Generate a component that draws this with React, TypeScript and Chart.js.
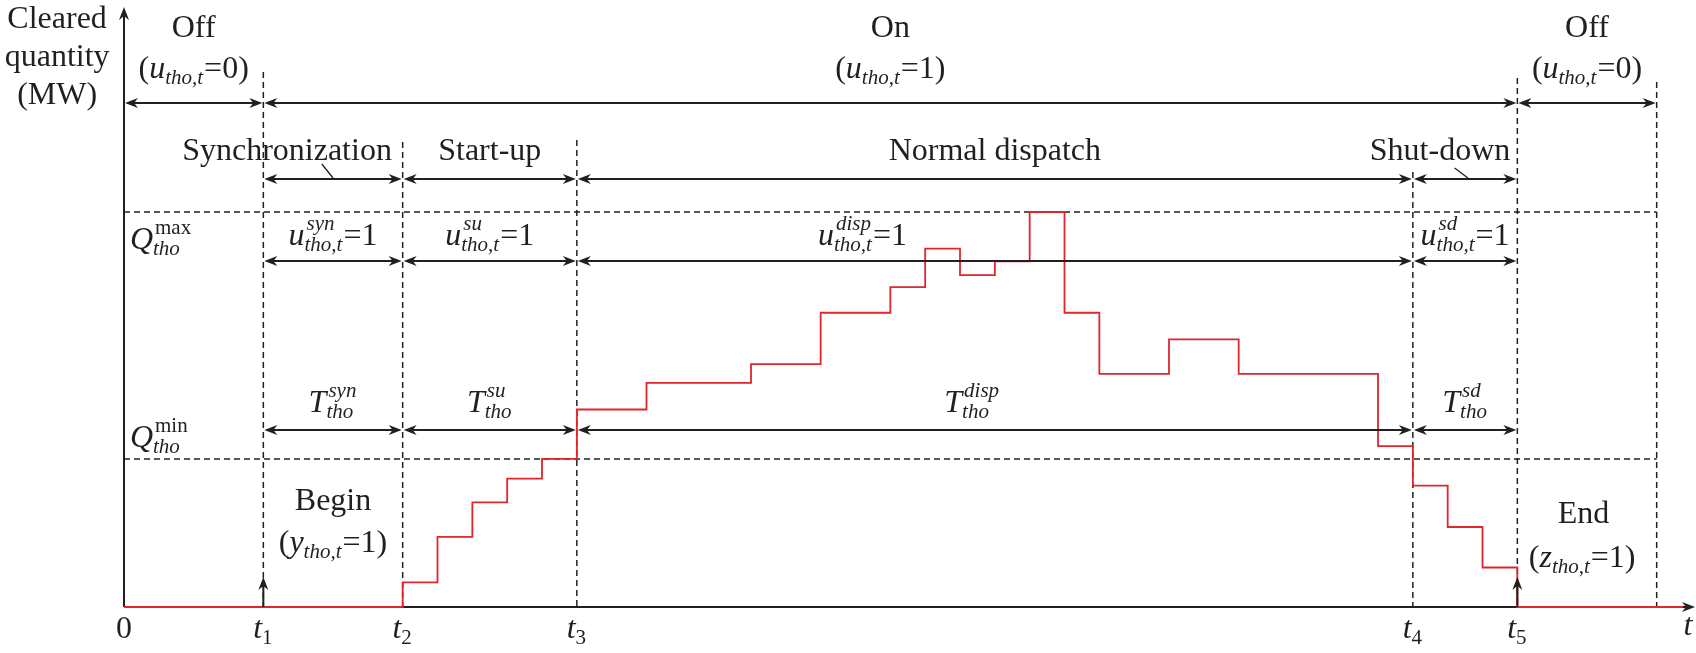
import React, { useEffect, useRef } from 'react';
import { Chart, registerables } from 'chart.js';

Chart.register(...registerables);

// ---------- data ----------
const STEP_TIMES = [0, 8, 9, 10, 11, 12, 13, 15, 18, 20, 22, 23, 24, 25, 26, 27, 28, 30, 32, 36, 37, 38, 39, 40, 44.75];
const STEP_VALUES = [0, 25, 71, 106, 130, 150, 200, 227, 246, 298, 324, 363, 336, 350, 400, 298, 236, 271, 236, 163, 123, 81, 40, 0, 0];
const Q_MIN = 150;
const Q_MAX = 400;

const TICK_POS = [0, 4, 8, 13, 37, 40];
const TICK_MAIN = ['0', 't', 't', 't', 't', 't'];
const TICK_SUB = ['', '1', '2', '3', '4', '5'];
const T_OFF_END = 44;

const STATES = ['Off', 'On', 'Off'];
const STATE_U = ['0', '1', '0'];
const STATE_BOUNDS = [0, 4, 40, 44];

const PHASES = ['Synchronization', 'Start-up', 'Normal dispatch', 'Shut-down'];
const PHASE_SUP = ['syn', 'su', 'disp', 'sd'];
const PHASE_BOUNDS = [4, 8, 13, 37, 40];

// ---------- layout ----------
const X_MAX = 45.1;
const Y_MAX = 607.6;
const ROW_STATE = 510.4;
const ROW_PHASE = 433.4;
const ROW_U = 350.4;
const ROW_T = 179.2;
const VLINE_X = [4, 8, 13, 37, 40, 44];
const VLINE_TOP = [541.8, 470.9, 472.9, 440.5, 535.7, 531.6];
const EVENT_TIP = 30.4;
const PHASE_LABEL_X = [4.68, 10.5, 25, 37.78];
const U_LABEL_X = [6, 10.5, 21.2, 38.5];
const T_LABEL_X = [6, 10.5, 24.35, 38.5];

const INK = '#231f20';
const RED = '#e0252d';
const SERIF = '"Liberation Serif", "Times New Roman", serif';
const BIG = 32;
const SMALL = 21;
const SUP_RISE = 15;
const SUB_DROP = 6;

const fnt = (size: number, it: boolean) => `${it ? 'italic ' : ''}${size}px ${SERIF}`;

type Seg = { t?: string; it?: boolean; sup?: string; sub?: string; supIt?: boolean; subIt?: boolean };

function segW(ctx: CanvasRenderingContext2D, s: Seg) {
  if (s.t !== undefined) {
    ctx.font = fnt(BIG, !!s.it);
    return ctx.measureText(s.t).width;
  }
  let w = 0;
  if (s.sup) {
    ctx.font = fnt(SMALL, s.supIt !== false);
    w = Math.max(w, ctx.measureText(s.sup).width + 2);
  }
  if (s.sub) {
    ctx.font = fnt(SMALL, s.subIt !== false);
    w = Math.max(w, ctx.measureText(s.sub).width);
  }
  return w + 1;
}

function drawRich(ctx: CanvasRenderingContext2D, segs: Seg[], x: number, y: number, align: 'center' | 'left') {
  const total = segs.reduce((a, s) => a + segW(ctx, s), 0);
  let cx = align === 'center' ? x - total / 2 : x;
  ctx.textAlign = 'left';
  ctx.textBaseline = 'alphabetic';
  ctx.fillStyle = INK;
  for (const s of segs) {
    const w = segW(ctx, s);
    if (s.t !== undefined) {
      ctx.font = fnt(BIG, !!s.it);
      ctx.fillText(s.t, cx, y);
    } else {
      if (s.sup) {
        ctx.font = fnt(SMALL, s.supIt !== false);
        ctx.fillText(s.sup, cx + 2, y - SUP_RISE);
      }
      if (s.sub) {
        ctx.font = fnt(SMALL, s.subIt !== false);
        ctx.fillText(s.sub, cx, y + SUB_DROP);
      }
    }
    cx += w;
  }
}

function head(ctx: CanvasRenderingContext2D, x: number, y: number, dx: number, dy: number) {
  const L = 13, W = 5;
  ctx.beginPath();
  ctx.moveTo(x, y);
  ctx.lineTo(x - dx * L - dy * W, y - dy * L + dx * W);
  ctx.lineTo(x - dx * L * 0.7, y - dy * L * 0.7);
  ctx.lineTo(x - dx * L + dy * W, y - dy * L - dx * W);
  ctx.closePath();
  ctx.fill();
}

function dblArrow(ctx: CanvasRenderingContext2D, x1: number, x2: number, y: number) {
  ctx.beginPath();
  ctx.moveTo(x1 + 4, y);
  ctx.lineTo(x2 - 4, y);
  ctx.stroke();
  head(ctx, x1 + 1, y, -1, 0);
  head(ctx, x2 - 1, y, 1, 0);
}

const diagramPlugin = {
  id: 'diagram',
  beforeDatasetsDraw(chart: any) {
    const ctx: CanvasRenderingContext2D = chart.ctx;
    const X = (v: number) => chart.scales.x.getPixelForValue(v);
    const Y = (v: number) => chart.scales.y.getPixelForValue(v);
    ctx.save();
    ctx.strokeStyle = INK;
    ctx.lineWidth = 1.5;
    ctx.setLineDash([6, 4]);
    for (const q of [Q_MIN, Q_MAX]) {
      ctx.beginPath();
      ctx.moveTo(X(0), Y(q));
      ctx.lineTo(X(T_OFF_END), Y(q));
      ctx.stroke();
    }
    VLINE_X.forEach((t, i) => {
      ctx.beginPath();
      ctx.moveTo(X(t), Y(VLINE_TOP[i]));
      ctx.lineTo(X(t), Y(0));
      ctx.stroke();
    });
    ctx.setLineDash([]);
    ctx.lineWidth = 2;
    ctx.beginPath();
    ctx.moveTo(X(0), Y(0));
    ctx.lineTo(X(0), Y(Y_MAX) + 6);
    ctx.moveTo(X(0), Y(0));
    ctx.lineTo(X(X_MAX) - 6, Y(0));
    ctx.stroke();
    ctx.restore();
  },
  afterDatasetsDraw(chart: any) {
    const ctx: CanvasRenderingContext2D = chart.ctx;
    const X = (v: number) => chart.scales.x.getPixelForValue(v);
    const Y = (v: number) => chart.scales.y.getPixelForValue(v);
    ctx.save();
    ctx.fillStyle = INK;
    ctx.strokeStyle = INK;
    ctx.lineWidth = 2;
    // axis heads
    head(ctx, X(0), Y(Y_MAX), 0, -1);
    head(ctx, X(X_MAX), Y(0), 1, 0);

    // state arrows
    for (let i = 0; i < STATES.length; i++) dblArrow(ctx, X(STATE_BOUNDS[i]), X(STATE_BOUNDS[i + 1]), Y(ROW_STATE));
    for (let i = 0; i < PHASES.length; i++) {
      const a = X(PHASE_BOUNDS[i]), b = X(PHASE_BOUNDS[i + 1]);
      dblArrow(ctx, a, b, Y(ROW_PHASE));
      dblArrow(ctx, a, b, Y(ROW_U));
      dblArrow(ctx, a, b, Y(ROW_T));
    }
    // begin / end event arrows
    for (const t of [PHASE_BOUNDS[0], PHASE_BOUNDS[4]]) {
      ctx.beginPath();
      ctx.moveTo(X(t), Y(0));
      ctx.lineTo(X(t), Y(EVENT_TIP) + 6);
      ctx.stroke();
      head(ctx, X(t), Y(EVENT_TIP), 0, -1);
    }
    // leader lines
    ctx.lineWidth = 1.3;
    ctx.beginPath();
    ctx.moveTo(X(5.68), Y(ROW_PHASE) - 15);
    ctx.lineTo(X(6.0), Y(ROW_PHASE) - 1);
    ctx.moveTo(X(38.2), Y(ROW_PHASE) - 11);
    ctx.lineTo(X(38.58), Y(ROW_PHASE) - 1);
    ctx.stroke();

    // y-axis title
    ctx.font = fnt(BIG, false);
    ctx.textAlign = 'center';
    ctx.textBaseline = 'alphabetic';
    ctx.fillText('Cleared', X(-1.92), 28);
    ctx.fillText('quantity', X(-1.92), 66);
    ctx.fillText('(MW)', X(-1.92), 104);

    // state labels
    for (let i = 0; i < STATES.length; i++) {
      const mid = X((STATE_BOUNDS[i] + STATE_BOUNDS[i + 1]) / 2);
      drawRich(ctx, [{ t: STATES[i] }], mid, 37, 'center');
      drawRich(ctx, [{ t: '(' }, { t: 'u', it: true }, { sub: 'tho,t' }, { t: `=${STATE_U[i]})` }], mid, 78, 'center');
    }
    // phase labels, u labels, T labels
    for (let i = 0; i < PHASES.length; i++) {
      drawRich(ctx, [{ t: PHASES[i] }], X(PHASE_LABEL_X[i]), 160, 'center');
      drawRich(ctx, [{ t: 'u', it: true }, { sup: PHASE_SUP[i], sub: 'tho,t' }, { t: '=1' }], X(U_LABEL_X[i]), 245, 'center');
      drawRich(ctx, [{ t: 'T', it: true }, { sup: PHASE_SUP[i], sub: 'tho' }], X(T_LABEL_X[i]), 412, 'center');
    }
    // Q labels
    drawRich(ctx, [{ t: 'Q', it: true }, { sup: 'max', supIt: false, sub: 'tho' }], X(0.17), 249, 'left');
    drawRich(ctx, [{ t: 'Q', it: true }, { sup: 'min', supIt: false, sub: 'tho' }], X(0.17), 447, 'left');
    // Begin / End
    drawRich(ctx, [{ t: 'Begin' }], X(6), 510, 'center');
    drawRich(ctx, [{ t: '(' }, { t: 'y', it: true }, { sub: 'tho,t' }, { t: '=1)' }], X(6), 552, 'center');
    drawRich(ctx, [{ t: 'End' }], X(41.9), 523, 'center');
    drawRich(ctx, [{ t: '(' }, { t: 'z', it: true }, { sub: 'tho,t' }, { t: '=1)' }], X(41.86), 567, 'center');
    // tick labels
    TICK_POS.forEach((p, i) => {
      const segs: Seg[] = TICK_SUB[i]
        ? [{ t: TICK_MAIN[i], it: true }, { sub: TICK_SUB[i], subIt: false }]
        : [{ t: TICK_MAIN[i] }];
      drawRich(ctx, segs, X(p), 638, 'center');
    });
    drawRich(ctx, [{ t: 't', it: true }], X(44.9), 635, 'center');
    ctx.restore();
  },
};

export default function App() {
  const ref = useRef<HTMLCanvasElement>(null);
  useEffect(() => {
    document.body.style.margin = '0';
    const chart = new Chart(ref.current as HTMLCanvasElement, {
      type: 'line',
      data: {
        datasets: [
          {
            data: STEP_TIMES.map((t, i) => ({ x: t, y: STEP_VALUES[i] })),
            stepped: 'before',
            borderColor: RED,
            borderWidth: 1.8,
            pointRadius: 0,
            fill: false,
            clip: false,
          } as any,
        ],
      },
      options: {
        animation: false,
        responsive: false,
        devicePixelRatio: 1,
        events: [],
        layout: { padding: { left: 124, right: 1, top: 7, bottom: 46 } },
        scales: {
          x: { type: 'linear', min: 0, max: X_MAX, display: false },
          y: { type: 'linear', min: 0, max: Y_MAX, display: false },
        },
        plugins: { legend: { display: false }, tooltip: { enabled: false } },
      },
      plugins: [diagramPlugin],
    });
    return () => chart.destroy();
  }, []);
  return (
    <div style={{ position: 'absolute', left: 0, top: 0, width: 1696, height: 653, background: '#fff' }}>
      <canvas ref={ref} width={1696} height={653} style={{ display: 'block' }} />
    </div>
  );
}
